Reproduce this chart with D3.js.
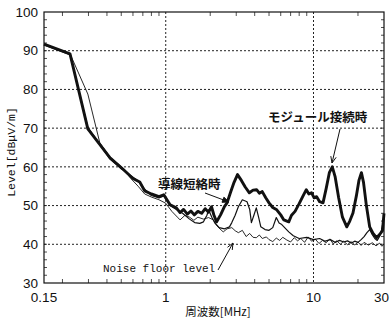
<!DOCTYPE html>
<html>
<head>
<meta charset="utf-8">
<script src="https://cdn.jsdelivr.net/npm/d3@7"></script>
<style>
  body { margin: 0; background: #fff; }
  svg text { fill: #111; }
</style>
</head>
<body>
<div id="chart"></div>
<script>
// Series values (frequency in MHz, level in dBµV/m)
const moduleFreq = [0.15, 0.225, 0.297, 0.42, 0.51, 0.6, 0.667, 0.72, 0.8, 0.9, 0.97, 1.07, 1.18, 1.25, 1.32, 1.4, 1.48, 1.56, 1.65, 1.75, 1.85, 1.95, 2.04, 2.12, 2.21, 2.35, 2.5, 2.6, 2.75, 2.9, 3.06, 3.25, 3.45, 3.68, 3.9, 4.12, 4.3, 4.5, 4.75, 5.0, 5.3, 5.64, 6.0, 6.3, 6.8, 7.1, 7.5, 8.0, 8.5, 8.94, 9.3, 9.7, 10.1, 10.5, 11.0, 11.6, 12.2, 12.8, 13.4, 14.0, 14.8, 15.7, 16.8, 17.6, 18.5, 19.5, 20.3, 21.1, 21.8, 22.8, 24.0, 25.3, 26.7, 28.0, 29.3, 30];
const moduleLevel = [91.7, 89.2, 69.8, 62.3, 59.5, 57.0, 56.1, 53.8, 53.0, 52.3, 52.8, 50.2, 49.4, 48.2, 49.0, 47.8, 48.6, 47.6, 48.5, 48.0, 49.2, 48.3, 49.7, 47.5, 45.8, 47.6, 49.8, 50.7, 53.5, 56.0, 58.0, 56.5, 54.8, 53.3, 54.0, 54.1, 53.2, 53.6, 52.0, 50.7, 49.5, 48.9, 47.6, 46.3, 45.8, 47.5, 48.5, 50.5, 52.5, 54.1, 53.0, 53.3, 52.0, 52.3, 51.0, 50.7, 54.5, 58.5, 60.0, 57.5, 52.0, 47.0, 44.5, 46.0, 48.1, 52.5, 56.5, 58.5, 56.0, 50.0, 44.5, 42.8, 41.7, 42.5, 43.5, 48.0];

const shortFreq = [0.15, 0.225, 0.297, 0.42, 0.51, 0.6, 0.667, 0.72, 0.8, 0.9, 0.97, 1.07, 1.18, 1.3, 1.45, 1.57, 1.7, 1.8, 1.9, 1.95, 2.05, 2.15, 2.3, 2.5, 2.7, 2.8, 2.95, 3.1, 3.3, 3.55, 3.7, 3.8, 3.95, 4.1, 4.25, 4.4, 4.7, 5.0, 5.3, 5.6, 5.85, 6.1, 6.5, 6.8, 7.3, 8, 9, 10, 11, 12, 13, 14, 15, 16, 17, 18, 19, 20, 21, 22, 23, 24, 25, 26, 27, 28, 29, 30];
const shortLevel = [91.5, 89.0, 70.2, 62.0, 59.3, 57.3, 56.0, 54.2, 52.6, 52.0, 52.5, 50.0, 49.0, 48.0, 46.5, 45.6, 45.4, 45.8, 47.5, 48.9, 47.0, 45.5, 44.3, 44.0, 44.5, 45.6, 47.5, 49.7, 51.5, 51.0, 49.0, 45.6, 47.5, 49.4, 47.0, 44.5, 43.8, 43.6, 44.3, 46.9, 45.5, 45.1, 44.0, 43.2, 42.2, 41.5, 41.8, 41.2, 41.5, 40.8, 41.2, 40.5, 41.0, 40.6, 40.9, 40.3, 40.8, 40.5, 41.2, 42.0, 43.0, 43.8, 42.5, 41.5, 41.0, 42.0, 44.0, 47.0];

const noiseFreq = [0.15, 0.225, 0.297, 0.358, 0.42, 0.51, 0.58, 0.65, 0.72, 0.8, 0.9, 1.0, 1.1, 1.2, 1.25, 1.35, 1.45, 1.55, 1.65, 1.8, 1.95, 2.1, 2.25, 2.45, 2.6, 2.8, 2.95, 3.1, 3.3, 3.5, 3.7, 3.9, 4.1, 4.3, 4.5, 4.8, 5.0, 5.3, 5.6, 5.9, 6.2, 6.6, 7.0, 7.4, 7.8, 8.2, 8.7, 9.2, 9.7, 10.3, 10.9, 11.5, 12.2, 12.9, 13.6, 14.4, 15.2, 16, 17, 18, 19, 20, 21, 22, 23.5, 25, 26.5, 28, 29, 30];
const noiseLevel = [91.7, 89.2, 78.8, 66.2, 62.5, 59.8, 57.0, 55.0, 53.0, 52.2, 51.5, 50.6, 48.5, 47.0, 46.3, 47.5, 47.0, 46.2, 47.0, 46.5, 46.9, 46.3, 44.5, 43.2, 44.0, 44.3, 43.5, 43.0, 43.6, 42.0, 42.8, 41.8, 41.7, 42.4, 41.5, 41.9, 41.2, 40.7, 41.6, 41.0, 41.8, 41.1, 40.6, 41.7, 40.9, 41.5, 40.5, 41.9, 40.8, 41.3, 40.2, 41.0, 40.4, 41.4, 40.1, 40.9, 40.0, 40.8, 39.9, 40.7, 39.8, 40.6, 39.7, 40.5, 39.8, 40.4, 39.6, 40.3, 39.5, 40.0];

const yTicks = [30, 40, 50, 60, 70, 80, 90, 100];
const xTicks = [0.15, 1, 10, 30];
const xGrid = [1, 10];
const xMinor = [0.2, 0.3, 0.4, 0.5, 0.6, 0.7, 0.8, 0.9, 2, 3, 4, 5, 6, 7, 8, 9, 20];

const W = 390, H = 320;
const margin = { top: 12, right: 6, bottom: 37, left: 44 };
const width = W - margin.left - margin.right;
const height = H - margin.top - margin.bottom;

const svg = d3.select('#chart').append('svg')
  .attr('width', W).attr('height', H);

const g = svg.append('g')
  .attr('transform', `translate(${margin.left},${margin.top})`);

const x = d3.scaleLog().domain([0.15, 30]).range([0, width]);
const y = d3.scaleLinear().domain([30, 100]).range([height, 0]);

// dotted grid
g.selectAll('.hgrid').data(yTicks.filter(v => v > 30 && v < 100)).enter()
  .append('line')
  .attr('x1', 0).attr('x2', width)
  .attr('y1', d => y(d)).attr('y2', d => y(d))
  .attr('stroke', '#222').attr('stroke-width', 1)
  .attr('stroke-dasharray', '2,2');
g.selectAll('.vgrid').data(xGrid).enter()
  .append('line')
  .attr('y1', 0).attr('y2', height)
  .attr('x1', d => x(d)).attr('x2', d => x(d))
  .attr('stroke', '#222').attr('stroke-width', 1)
  .attr('stroke-dasharray', '2,2');

// minor ticks, inward on all sides
const yMinor = d3.range(32, 100, 2);
[0, width].forEach((px, i) => {
  g.selectAll(null).data(yMinor).enter().append('line')
    .attr('x1', px).attr('x2', i ? px - 3 : px + 3)
    .attr('y1', d => y(d)).attr('y2', d => y(d))
    .attr('stroke', '#222').attr('stroke-width', 0.8);
});
[0, height].forEach((py, i) => {
  g.selectAll(null).data(xMinor).enter().append('line')
    .attr('x1', d => x(d)).attr('x2', d => x(d))
    .attr('y1', py).attr('y2', i ? py - 4 : py + 4)
    .attr('stroke', '#222').attr('stroke-width', 0.8);
});

// curves
const line = d3.line().x(d => x(d[0])).y(d => y(d[1]));
const series = [
  { f: noiseFreq, v: noiseLevel, w: 0.9 },
  { f: shortFreq, v: shortLevel, w: 1.2 },
  { f: moduleFreq, v: moduleLevel, w: 2.9 }
];
series.forEach(s => {
  g.append('path')
    .datum(s.f.map((f, i) => [f, s.v[i]]))
    .attr('d', line)
    .attr('fill', 'none')
    .attr('stroke', '#111')
    .attr('stroke-width', s.w)
    .attr('stroke-linejoin', 'round');
});

// frame
g.append('rect')
  .attr('width', width).attr('height', height)
  .attr('fill', 'none').attr('stroke', '#111').attr('stroke-width', 1.2);

// tick labels
const tickFont = '"Liberation Sans Narrow", "Arial Narrow", "Liberation Sans", sans-serif';
g.selectAll('.ylab').data(yTicks).enter().append('text')
  .attr('x', -6).attr('y', d => y(d)).attr('dy', '0.35em')
  .attr('text-anchor', 'end')
  .style('font-family', tickFont).style('font-size', '13.5px')
  .text(d => d);
// last label would spill past the window edge, so it is right-aligned there
g.selectAll('.xlab').data(xTicks).enter().append('text')
  .attr('x', d => d === 30 ? W - margin.left - 1 : x(d)).attr('y', height + 19)
  .attr('text-anchor', d => d === 30 ? 'end' : 'middle')
  .style('font-family', tickFont).style('font-size', '13.5px')
  .text(d => d);

// axis titles
svg.append('text')
  .attr('transform', 'translate(15,152) rotate(-90)')
  .attr('text-anchor', 'middle')
  .style('font-family', '"Liberation Mono", "DejaVu Sans Mono", monospace')
  .style('font-size', '11.5px')
  .text('Level[dBμV/m]');
svg.append('text')
  .attr('x', 218).attr('y', 316)
  .attr('text-anchor', 'middle')
  .style('font-family', '"Noto Sans CJK JP", sans-serif')
  .style('font-size', '11.5px')
  .text('周波数[MHz]');

// annotations
const jp = '"Noto Sans CJK JP", sans-serif';
svg.append('text')
  .attr('x', 268).attr('y', 122)
  .style('font-family', jp).style('font-size', '12.5px').style('font-weight', 'bold')
  .text('モジュール接続時');
svg.append('text')
  .attr('x', 158).attr('y', 189)
  .style('font-family', jp).style('font-size', '12.5px').style('font-weight', 'bold')
  .text('導線短絡時');
svg.append('text')
  .attr('x', 103).attr('y', 272)
  .style('font-family', '"Liberation Mono", "DejaVu Sans Mono", monospace')
  .style('font-size', '11px')
  .text('Noise floor level');

function arrow(x1, y1, x2, y2, filled) {
  svg.append('line')
    .attr('x1', x1).attr('y1', y1).attr('x2', x2).attr('y2', y2)
    .attr('stroke', '#111').attr('stroke-width', 1);
  const a = Math.atan2(y2 - y1, x2 - x1), L = 7, s = 0.4;
  const p1 = [x2 - L * Math.cos(a - s), y2 - L * Math.sin(a - s)];
  const p2 = [x2 - L * Math.cos(a + s), y2 - L * Math.sin(a + s)];
  svg.append('path')
    .attr('d', `M${p1}L${x2},${y2}L${p2}` + (filled ? 'Z' : ''))
    .attr('fill', filled ? '#111' : 'none')
    .attr('stroke', '#111').attr('stroke-width', 1);
}
arrow(340, 129, 332, 163, false);
arrow(205, 193, 229, 202, true);
arrow(218, 270, 233, 243, false);
</script>
</body>
</html>
